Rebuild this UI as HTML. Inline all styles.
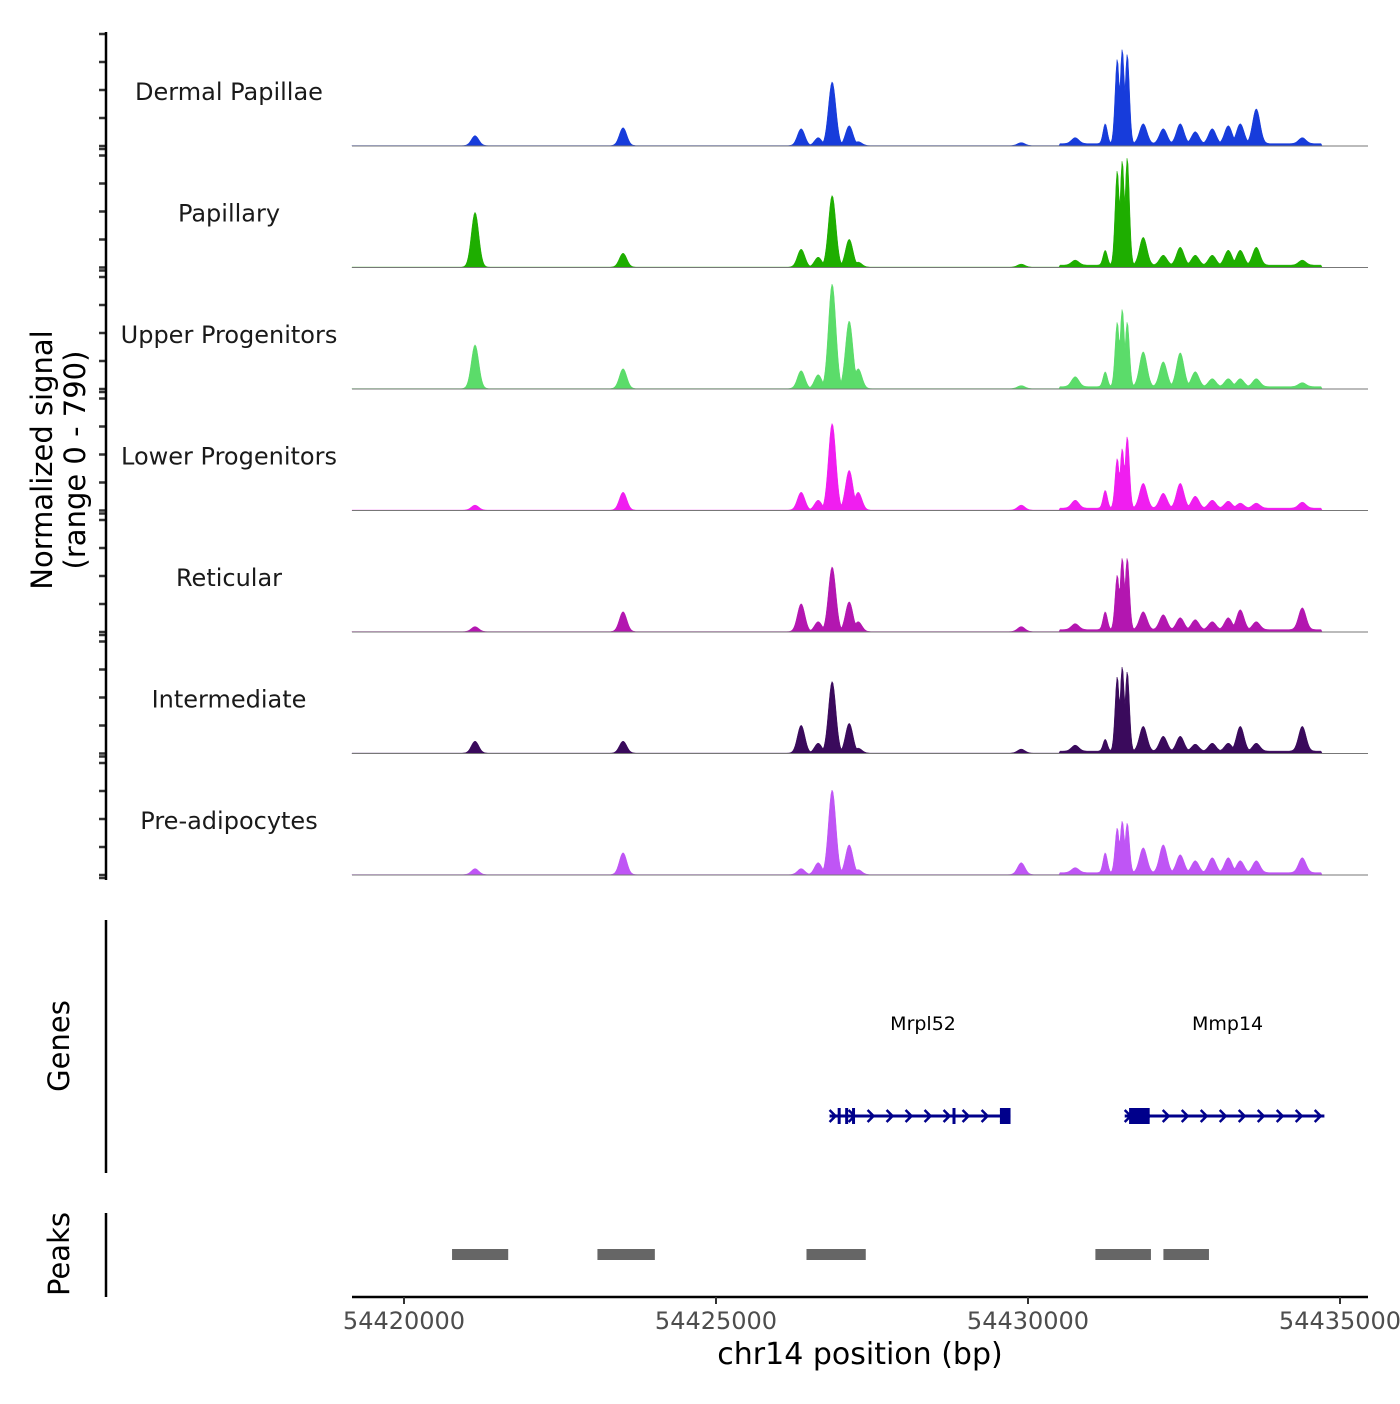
<!DOCTYPE html>
<html><head><meta charset="utf-8"><style>
body{margin:0;background:#fff;font-family:"DejaVu Sans","Liberation Sans",sans-serif}
svg text{font-family:"DejaVu Sans","Liberation Sans",sans-serif}
</style></head><body>
<svg id="c" width="1400" height="1400" viewBox="0 0 1400 1400"></svg>
<script>
const trackNames=["Dermal Papillae","Papillary","Upper Progenitors","Lower Progenitors","Reticular","Intermediate","Pre-adipocytes"];
const trackColors=["#173cdb","#1eae00","#5bdc6a","#f01ef0","#b316b0","#3a0a5c","#bf55f5"];
const peakPos=[54421138,54423510,54426364,54426637,54426861,54427134,54427278,54429891,54430756,54431237,54431430,54431510,54431590,54431846,54432167,54432439,54432680,54432952,54433209,54433401,54433658,54434395];
const sigDP=[10,18,17,8,64,20,4,3,6,20,85,95,90,20,15,20,12,15,18,20,35,6];
const sigPap=[55,14,18,10,72,28,5,3,5,15,95,105,108,28,10,18,10,10,15,15,18,5];
const sigUP=[44,20,18,14,105,68,20,3,10,15,65,78,65,35,25,34,15,8,8,8,8,4];
const sigLP=[5,18,18,10,87,40,18,5,8,18,50,60,72,25,15,25,12,8,7,5,5,6];
const sigRet=[5,20,28,10,65,30,10,5,6,18,55,72,72,18,15,12,10,8,12,20,8,22];
const sigInt=[12,12,28,10,72,30,5,4,6,12,75,85,80,25,15,15,7,8,8,25,8,25];
const sigPA=[6,22,6,12,85,30,5,12,5,20,45,52,50,25,28,18,12,15,15,12,12,15];
const signals=[sigDP,sigPap,sigUP,sigLP,sigRet,sigInt,sigPA];
const xTicks=[54420000,54425000,54430000,54435000];
const genes=[{name:"Mrpl52",start:54426820,end:54429720},{name:"Mmp14",start:54431550,end:54434750}];
const exons=[[54426950,54426970],[54427070,54427090],[54427180,54427200],[54428790,54428810],[54429550,54429720],[54431620,54431950]];
const peaks=[[54420770,54421670],[54423100,54424020],[54426450,54427400],[54431080,54431970],[54432170,54432900]];
const yMax=122; // normalized units per track

const S=document.getElementById('c'),NS="http://www.w3.org/2000/svg";
function el(t,a,p){const e=document.createElementNS(NS,t);for(const k in a)e.setAttribute(k,a[k]);(p||S).appendChild(e);return e;}
const x0=54420000,px0=404,k=936/15000;
const X=v=>px0+(v-x0)*k;
const Xinv=p=>x0+(p-px0)/k;
const trackH=121.5,base0=146;
const dStart=54419166,dEnd=54434716;

signals.forEach((sig,t)=>{
  const b=base0+t*trackH;
  const g=el('g',{});
  
  
  let d="M"+X(dStart)+","+b;
  for(let p=X(dStart);p<=X(dEnd);p+=1){
    const bp=Xinv(p);let v=0;
    for(let i=0;i<peakPos.length;i++){const s=(i>=9&&i<=12)?35:60;const dd=(bp-peakPos[i])/s;v=Math.max(v,sig[i]*Math.exp(-dd*dd/2));}
    v+=0.4;
    if(bp>54430500&&bp<54434700)v+=2;
    const y=b-v/yMax*trackH;
    d+=" L"+p.toFixed(1)+","+y.toFixed(1);
  }
  d+=" L"+X(dEnd)+","+b+" Z";
  const area=el('path',{d:d,fill:trackColors[t],stroke:trackColors[t],'stroke-width':0.5},g);
  
  
  const bl=el('line',{x1:352,x2:1368,y1:b,y2:b,stroke:'#777','stroke-width':1},g);
  
  
  const lb=el('text',{x:229,y:b-46,'text-anchor':'middle','font-size':24,fill:'#1a1a1a'},g);
  lb.textContent=trackNames[t];
  
  
  for(let j=0;j<=4;j++){const ty=b-j*28;el('line',{x1:99,x2:106,y1:ty,y2:ty,stroke:'#333','stroke-width':2.5});}
  el('line',{x1:99,x2:106,y1:b+3,y2:b+3,stroke:'#333','stroke-width':2.5});
});
el('line',{x1:106,x2:106,y1:32,y2:880,stroke:'#000','stroke-width':2.5});
const yt=el('text',{transform:'translate(52,460) rotate(-90)','text-anchor':'middle','font-size':29,fill:'#000'});
yt.innerHTML='<tspan x="0" dy="0">Normalized signal</tspan><tspan x="0" dy="33">(range 0 - 790)</tspan>';



// genes
el('line',{x1:106,x2:106,y1:920,y2:1173,stroke:'#000','stroke-width':2.5});
const gt=el('text',{transform:'translate(69,1046) rotate(-90)','text-anchor':'middle','font-size':29});gt.textContent="Genes";


genes.forEach(gn=>{
  const g=el('g',{});
  
  
  el('line',{x1:X(gn.start),x2:X(gn.end),y1:1116,y2:1116,stroke:'#00008b','stroke-width':3},g);
  for(let p=X(gn.start)+3;p<X(gn.end);p+=19){el('path',{d:`M${p-3},${1110} L${p+3},${1116} L${p-3},${1122}`,fill:'none',stroke:'#00008b','stroke-width':2.5},g);}
  const t=el('text',{x:(X(gn.start)+X(gn.end))/2+3,y:1030,'text-anchor':'middle','font-size':19},g);t.textContent=gn.name;
});
exons.forEach(e=>{
  const r=el('rect',{x:X(e[0]),y:1108,width:Math.max(3,X(e[1])-X(e[0])),height:16,fill:'#00008b'});
  
  
});

// peaks
el('line',{x1:106,x2:106,y1:1213,y2:1297,stroke:'#000','stroke-width':2.5});
const pt=el('text',{transform:'translate(69,1254) rotate(-90)','text-anchor':'middle','font-size':29});pt.textContent="Peaks";


peaks.forEach(p=>{
  const r=el('rect',{x:X(p[0]),y:1249,width:X(p[1])-X(p[0]),height:11,fill:'#666'});
  
  
});

// x axis
const ax=el('line',{x1:352,x2:1368,y1:1297,y2:1297,stroke:'#000','stroke-width':2.5});


xTicks.forEach(v=>{
  el('line',{x1:X(v),x2:X(v),y1:1297,y2:1304,stroke:'#333','stroke-width':2});
  const t=el('text',{x:X(v),y:1329,'text-anchor':'middle','font-size':24,fill:'#4d4d4d'});t.textContent=v;
  
  
});
const xt=el('text',{x:860,y:1364,'text-anchor':'middle','font-size':30});xt.textContent="chr14 position (bp)";


</script>
</body></html>
